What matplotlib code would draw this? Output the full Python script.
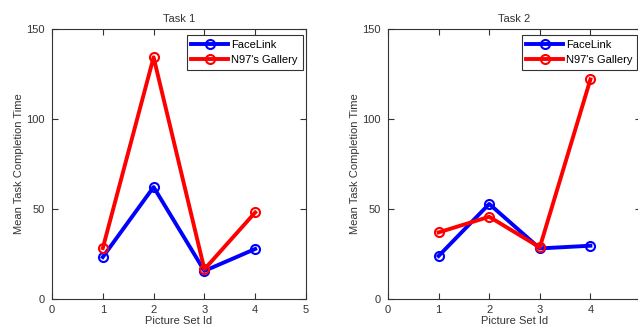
import matplotlib
matplotlib.use("Agg")
import matplotlib.pyplot as plt

plt.rcParams['font.family'] = ['Liberation Sans', 'DejaVu Sans']

picture_sets = [1, 2, 3, 4]
task1_facelink = [23.3, 62.2, 15.6, 27.8]
task1_n97 = [28.3, 134.3, 16.5, 48.1]
task2_facelink = [23.9, 52.8, 28.1, 29.6]
task2_n97 = [37.0, 45.7, 28.7, 122.0]
titles = ["Task 1", "Task 2"]
series_names = ["FaceLink", "N97's Gallery"]
xticks = [0, 1, 2, 3, 4, 5]
yticks = [0, 50, 100, 150]

W, H = 638, 328
fig = plt.figure(figsize=(W / 100, H / 100), dpi=100)
fig.patch.set_facecolor('white')

panels = [
    (52, 306, task1_facelink, task1_n97, titles[0], True),
    (388, 641, task2_facelink, task2_n97, titles[1], False),
]
top, bottom = 29, 299
txt = '#333333'
for left, right, fl, n97, title, show5 in panels:
    aw, ah = right - left, bottom - top
    ax = fig.add_axes([left / W, 1 - bottom / H, aw / W, ah / H])
    ax.plot(picture_sets, fl, color='#0000ff', lw=2.8, marker='o', ms=6.5,
            mfc='none', mec='#0000ff', mew=1.5, label=series_names[0])
    ax.plot(picture_sets, n97, color='#ff0000', lw=2.8, marker='o', ms=6.5,
            mfc='none', mec='#ff0000', mew=1.5, label=series_names[1])
    ax.set_xlim(0, 5)
    ax.set_ylim(0, 150)
    ax.set_xticks(xticks)
    ax.set_xticklabels([str(t) if (t != 5 or show5) else '' for t in xticks])
    ax.set_yticks(yticks)
    ax.tick_params(direction='in', top=True, right=True, labelsize=8, length=4,
                   width=0.8, colors=txt)
    ax.tick_params(axis='x', pad=4)
    ax.tick_params(axis='y', pad=5)
    for sp in ax.spines.values():
        sp.set_linewidth(0.8)
        sp.set_color(txt)
    ax.set_title(title, fontsize=8, pad=5, color=txt)
    ax.set_xlabel("Picture Set Id", fontsize=8, labelpad=1, color=txt)
    ax.set_ylabel("Mean Task Completion Time", fontsize=8, labelpad=1.5, color=txt)
    leg = ax.legend(loc='upper right', bbox_to_anchor=(1 - 3.5 / aw, 1 - 6 / ah),
                    fontsize=8, frameon=True, fancybox=False,
                    edgecolor=txt, framealpha=1, borderpad=0.42,
                    handlelength=3.3, handletextpad=0.3, labelspacing=0.5,
                    borderaxespad=0)
    leg.get_frame().set_linewidth(0.8)

fig.savefig("out.png", dpi=100)
